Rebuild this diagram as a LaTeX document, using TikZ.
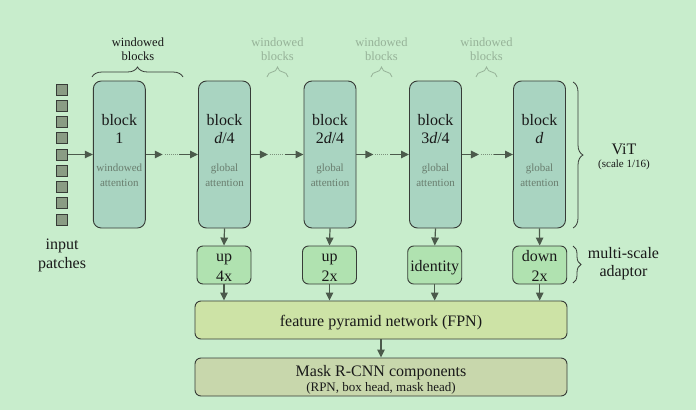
\documentclass[tikz,border=0pt]{standalone}
\usepackage{fontspec}
\setmainfont{Liberation Serif}
\usetikzlibrary{arrows.meta,decorations.pathreplacing,calc}

\definecolor{bgc}{RGB}{200,237,204}
\definecolor{blockc}{RGB}{169,212,193}
\definecolor{adaptc}{RGB}{176,226,176}
\definecolor{fpnc}{RGB}{205,227,166}
\definecolor{maskc}{RGB}{200,215,172}
\definecolor{patchc}{RGB}{138,156,132}
\definecolor{edgec}{RGB}{55,60,55}
\definecolor{arrowc}{RGB}{75,90,75}
\definecolor{dotc}{RGB}{125,145,125}
\definecolor{subc}{RGB}{105,125,110}
\definecolor{fadec}{RGB}{150,178,152}
\definecolor{txtc}{RGB}{25,25,25}

\tikzset{
  vitblock/.style={draw=edgec, fill=blockc, line width=0.9pt, rounded corners=8pt,
    minimum width=52pt, minimum height=147pt, inner sep=0pt},
  adaptbox/.style={draw=edgec, fill=adaptc, line width=0.9pt, rounded corners=6pt,
    minimum width=54pt, minimum height=38pt, inner sep=0pt},
  widebox/.style={draw=edgec, line width=0.9pt, rounded corners=6pt,
    minimum width=372pt, minimum height=38pt, inner sep=0pt},
  patch/.style={draw=edgec, fill=patchc, line width=0.8pt, minimum size=11pt, inner sep=0pt},
  arr/.style={draw=arrowc, line width=1.2pt, -{Triangle[length=8pt,width=7.5pt]}},
  dotline/.style={draw=dotc, line width=1pt, dash pattern=on 1pt off 1pt},
  bracedark/.style={decorate, decoration={brace, amplitude=10pt}, draw=edgec, line width=0.8pt},
  bracefade/.style={decorate, decoration={brace, amplitude=10pt}, draw=fadec, line width=0.8pt},
  lbl/.style={anchor=base, inner sep=0pt, text=txtc},
  big/.style={lbl, font=\fontsize{16}{19}\selectfont},
  small/.style={lbl, text=subc, font=\fontsize{11}{13}\selectfont},
  note/.style={lbl, font=\fontsize{12.5}{15}\selectfont},
  notefade/.style={note, text=fadec},
}

\begin{document}
\begin{tikzpicture}[x=1pt,y=-1pt]
\fill[bgc] (0,0) rectangle (696,410);
\useasboundingbox (0,0) rectangle (696,410);

% input patches
\foreach \i in {0,...,8}
  \node[patch] (p\i) at (62,89.5+16.25*\i) {};
\node[big] (inA) at (62,249.3) {input};
\node[big] (inB) at (62,268.3) {patches};

% transformer blocks
\node[vitblock] (b1) at (119.3,154.5) {};
\node[vitblock] (b2) at (224.5,154.5) {};
\node[vitblock] (b3) at (330,154.5) {};
\node[vitblock] (b4) at (435.5,154.5) {};
\node[vitblock] (b5) at (539.5,154.5) {};

\node[big] (b1t) at (119.3,125) {block};
\node[big] (b1n) at (119.3,143.5) {1};
\node[small] (b1a) at (119.3,171.7) {windowed};
\node[small] (b1b) at (119.3,186.7) {attention};

\node[big] (b2t) at (224.5,125) {block};
\node[big] (b2n) at (224.5,143.5) {\textit{d}/4};
\node[small] (b2a) at (224.5,171.7) {global};
\node[small] (b2b) at (224.5,186.7) {attention};

\node[big] (b3t) at (330,125) {block};
\node[big] (b3n) at (330,143.5) {2\textit{d}/4};
\node[small] (b3a) at (330,171.7) {global};
\node[small] (b3b) at (330,186.7) {attention};

\node[big] (b4t) at (435.5,125) {block};
\node[big] (b4n) at (435.5,143.5) {3\textit{d}/4};
\node[small] (b4a) at (435.5,171.7) {global};
\node[small] (b4b) at (435.5,186.7) {attention};

\node[big] (b5t) at (539.5,125) {block};
\node[big] (b5n) at (539.5,143.5) {\textit{d}};
\node[small] (b5a) at (539.5,171.7) {global};
\node[small] (b5b) at (539.5,186.7) {attention};

% sequence arrows
\draw[arr] (p4.east) -- (b1.west);
\foreach \a/\b in {b1/b2,b2/b3,b3/b4,b4/b5} {
  \draw[arr] (\a.east) -- ++(17,0);
  \draw[dotline] ($(\a.east)+(19,0)$) -- ++(14,0);
  \draw[arr] ($(\b.west)+(-19,0)$) -- (\b.west);
}

% windowed-block braces
\draw[bracedark] (92,77) -- (183,77);
\node[note] (w1a) at (138,46) {windowed};
\node[note] (w1b) at (138,60.7) {blocks};
\foreach \c/\k in {277.5/2,381.5/3,486.5/4} {
  \draw[bracefade] (\c-10.5,77) -- (\c+10.5,77);
  \node[notefade] (w\k a) at (\c,46) {windowed};
  \node[notefade] (w\k b) at (\c,60.7) {blocks};
}

% ViT brace
\draw[bracedark] (573,82) -- (573,228);
\node[big] (vit) at (624,154) {ViT};
\node[lbl, font=\fontsize{11}{13}\selectfont] (vits) at (624,167.7) {(scale 1/16)};

% multi-scale adaptor
\node[adaptbox] (a1) at (224,265) {};
\node[adaptbox] (a2) at (329.5,265) {};
\node[adaptbox] (a3) at (434.7,265) {};
\node[adaptbox] (a4) at (539.7,265) {};
\node[big] (a1t) at (224,261) {up};
\node[big] (a1n) at (224,281.7) {4x};
\node[big] (a2t) at (329.5,261) {up};
\node[big] (a2n) at (329.5,281.7) {2x};
\node[big] (a3t) at (434.7,271) {identity};
\node[big] (a4t) at (539.7,261) {down};
\node[big] (a4n) at (539.7,281.7) {2x};

\draw[bracedark, decoration={brace, amplitude=8pt}] (573,246) -- (573,283);
\node[big] (msA) at (623.5,258.3) {multi-scale};
\node[big] (msB) at (623.5,276.7) {adaptor};

% FPN and detection heads
\node[widebox, fill=fpnc] (fpn) at (381,320) {};
\node[big] (fpnt) at (381,326.7) {feature pyramid network (FPN)};
\node[widebox, fill=maskc] (mask) at (381,377) {};
\node[big] (maskt) at (381,376.7) {Mask R-CNN components};
\node[lbl, font=\fontsize{13}{15}\selectfont] (masks) at (381,391.7) {(RPN, box head, mask head)};

\foreach \i in {1,...,4} {
  \draw[arr] (b\the\numexpr\i+1\relax.south) -- (a\i.north);
  \draw[arr] (a\i.south) -- (a\i.south |- fpn.north);
}
\draw[arr] (fpn.south) -- (mask.north);
\end{tikzpicture}
\end{document}
